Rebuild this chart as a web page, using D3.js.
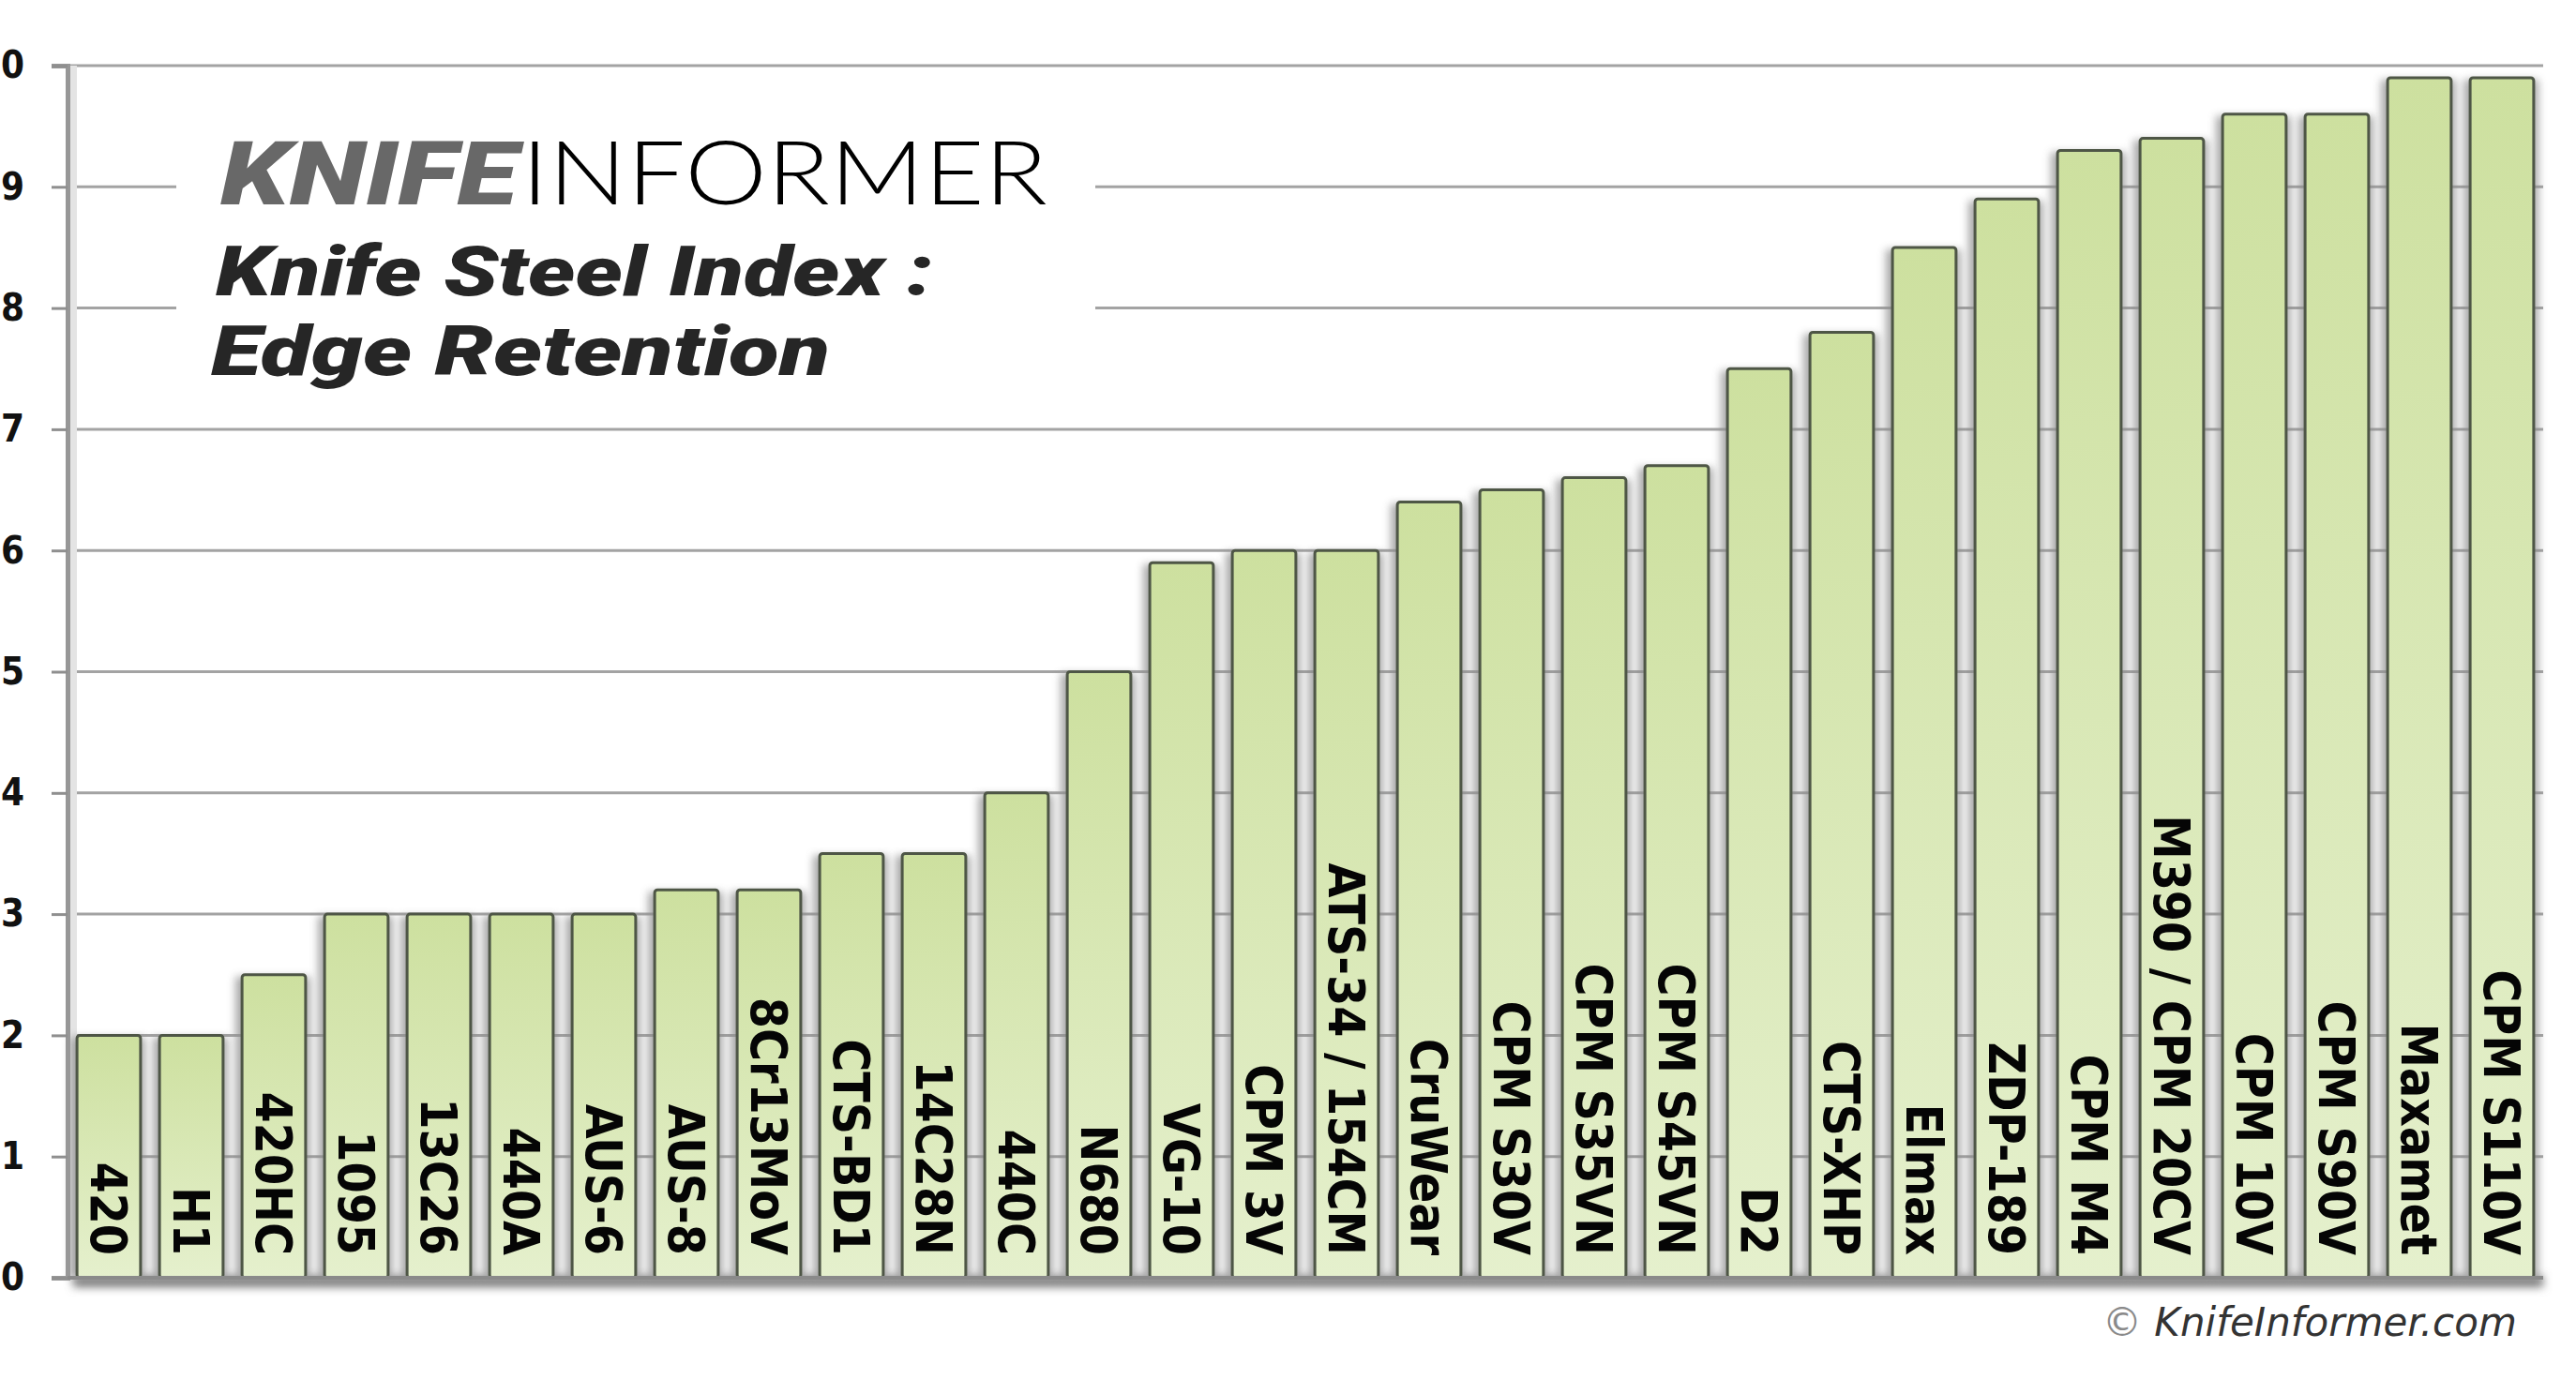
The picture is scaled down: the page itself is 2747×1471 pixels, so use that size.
<!DOCTYPE html>
<html>
<head>
<meta charset="utf-8">
<script src="https://cdn.jsdelivr.net/npm/d3@7"></script>
<style>
  html, body { margin: 0; padding: 0; background: #ffffff; }
  svg { display: block; }
</style>
</head>
<body>
<script>
// ---------- data ----------
const categories = [
  "420", "H1", "420HC", "1095", "13C26", "440A", "AUS-6", "AUS-8", "8Cr13MoV",
  "CTS-BD1", "14C28N", "440C", "N680", "VG-10", "CPM 3V", "ATS-34 / 154CM",
  "CruWear", "CPM S30V", "CPM S35VN", "CPM S45VN", "D2", "CTS-XHP", "Elmax",
  "ZDP-189", "CPM M4", "M390 / CPM 20CV", "CPM 10V", "CPM S90V", "Maxamet", "CPM S110V"
];
const values = [
  2.0, 2.0, 2.5, 3.0, 3.0, 3.0, 3.0, 3.2, 3.2,
  3.5, 3.5, 4.0, 5.0, 5.9, 6.0, 6.0,
  6.4, 6.5, 6.6, 6.7, 7.5, 7.8, 8.5,
  8.9, 9.3, 9.4, 9.6, 9.6, 9.9, 9.9
];
const yTickValues = [0, 1, 2, 3, 4, 5, 6, 7, 8, 9, 10];
const brandBold = "KNIFE";
const brandLight = "INFORMER";
const titleLines = ["Knife Steel Index :", "Edge Retention"];
const copyright = "KnifeInformer.com";

// ---------- layout ----------
const W = 2747, H = 1471;
const plotL = 72, plotR = 2712, plotT = 70, plotB = 1363;

const svg = d3.select("body").append("svg")
  .attr("width", W).attr("height", H)
  .attr("viewBox", `0 0 ${W} ${H}`);

const x = d3.scaleBand().domain(categories).range([plotL, plotR])
  .paddingInner(0.23).paddingOuter(0.115);
const y = d3.scaleLinear().domain([0, 10]).range([plotB, plotT]);

const defs = svg.append("defs");
const grad = defs.append("linearGradient").attr("id", "barGrad")
  .attr("x1", 0).attr("y1", 0).attr("x2", 0).attr("y2", 1);
grad.append("stop").attr("offset", "0%").attr("stop-color", "#cde09f");
grad.append("stop").attr("offset", "100%").attr("stop-color", "#e5f0cd");

const blur = defs.append("filter").attr("id", "blur")
  .attr("x", "-50%").attr("y", "-10%").attr("width", "200%").attr("height", "120%");
blur.append("feGaussianBlur").attr("stdDeviation", 4);

const blur2 = defs.append("filter").attr("id", "blur2")
  .attr("x", "-5%").attr("y", "-200%").attr("width", "110%").attr("height", "500%");
blur2.append("feGaussianBlur").attr("stdDeviation", 5);

// ---------- gridlines ----------
svg.append("g").selectAll("line").data(yTickValues.filter(d => d > 0)).join("line")
  .attr("x1", plotL).attr("x2", plotR)
  .attr("y1", d => y(d)).attr("y2", d => y(d))
  .attr("stroke", "#a3a3a3").attr("stroke-width", 3);

// white box behind title (interrupts gridlines)
svg.append("rect").attr("x", 188).attr("y", 140).attr("width", 980).attr("height", 290)
  .attr("fill", "#ffffff");

// floor shadow
svg.append("rect").attr("x", plotL + 6).attr("y", plotB - 2)
  .attr("width", plotR - plotL - 6).attr("height", 12)
  .attr("fill", "#7a7a7a").attr("filter", "url(#blur2)");

// wall light band
svg.append("rect").attr("x", plotL).attr("y", plotT).attr("width", 10).attr("height", plotB - plotT)
  .attr("fill", "#e4e4e4");

// ---------- bar shadows ----------
svg.append("g").selectAll("rect").data(categories).join("rect")
  .attr("x", d => x(d) - 7)
  .attr("y", (d, i) => y(values[i]) + 2)
  .attr("width", x.bandwidth() + 12)
  .attr("height", (d, i) => plotB - y(values[i]) - 2)
  .attr("fill", "#8d8d8d")
  .attr("opacity", 0.75)
  .attr("filter", "url(#blur)");

// ---------- bars ----------
svg.append("g").selectAll("rect").data(categories).join("rect")
  .attr("x", d => x(d))
  .attr("y", (d, i) => y(values[i]))
  .attr("width", x.bandwidth())
  .attr("height", (d, i) => plotB - y(values[i]))
  .attr("rx", 3).attr("ry", 3)
  .attr("fill", "url(#barGrad)")
  .attr("stroke", "#4e5646")
  .attr("stroke-width", 3);

// ---------- category labels inside bars ----------
svg.append("g").selectAll("text").data(categories).join("text")
  .attr("transform", d => `translate(${x(d) + x.bandwidth() / 2},${plotB - 24}) rotate(90)`)
  .attr("text-anchor", "end")
  .attr("dy", "0.36em")
  .style("font-family", "'DejaVu Sans Condensed', 'DejaVu Sans', sans-serif")
  .style("font-stretch", "condensed")
  .style("font-weight", "bold")
  .style("font-size", "53px")
  .attr("fill", "#050505")
  .text(d => d);

// ---------- y axis ----------
const yAxis = d3.axisLeft(y).tickValues(yTickValues).tickSize(17).tickPadding(29)
  .tickFormat(d3.format("d"));
const gy = svg.append("g").attr("transform", `translate(${plotL},0)`).call(yAxis);
gy.select(".domain").attr("stroke", "#979797").attr("stroke-width", 5);
gy.selectAll(".tick line").attr("stroke", "#8f8f8f").attr("stroke-width", 3);
gy.selectAll(".tick text")
  .style("font-family", "'DejaVu Sans Condensed', 'DejaVu Sans', sans-serif")
  .style("font-stretch", "condensed")
  .style("font-weight", "bold")
  .style("font-size", "40px")
  .attr("fill", "#111");

// x axis baseline
svg.append("line").attr("x1", plotL).attr("x2", plotR).attr("y1", plotB).attr("y2", plotB)
  .attr("stroke", "#8a8a8a").attr("stroke-width", 4);

// ---------- title ----------
const heavy = "Roboto, Lato, sans-serif";
const brand = svg.append("g");
brand.append("text").attr("x", 235).attr("y", 218)
  .attr("textLength", 317).attr("lengthAdjust", "spacingAndGlyphs")
  .style("font-family", heavy).style("font-weight", 900).style("font-style", "italic")
  .style("font-size", "94px").attr("fill", "#686868").text(brandBold);
brand.append("text").attr("x", 556).attr("y", 218)
  .attr("textLength", 561).attr("lengthAdjust", "spacingAndGlyphs")
  .style("font-family", "Lato, sans-serif").style("font-weight", 300)
  .style("font-size", "94px").attr("fill", "#000").text(brandLight);

svg.append("text").attr("x", 230).attr("y", 315)
  .attr("textLength", 765).attr("lengthAdjust", "spacingAndGlyphs")
  .style("font-family", heavy).style("font-weight", 900).style("font-style", "italic")
  .style("font-size", "74px").attr("fill", "#262626").text(titleLines[0]);
svg.append("text").attr("x", 225).attr("y", 400)
  .attr("textLength", 660).attr("lengthAdjust", "spacingAndGlyphs")
  .style("font-family", heavy).style("font-weight", 900).style("font-style", "italic")
  .style("font-size", "74px").attr("fill", "#262626").text(titleLines[1]);

// ---------- copyright ----------
const cp = svg.append("text").attr("x", 2242).attr("y", 1425)
  .style("font-family", "'DejaVu Sans', sans-serif").style("font-size", "42px");
cp.append("tspan").attr("fill", "#8a8a8a").text("© ");
cp.append("tspan").attr("fill", "#333").style("font-style", "italic").text(copyright);
</script>
</body>
</html>
